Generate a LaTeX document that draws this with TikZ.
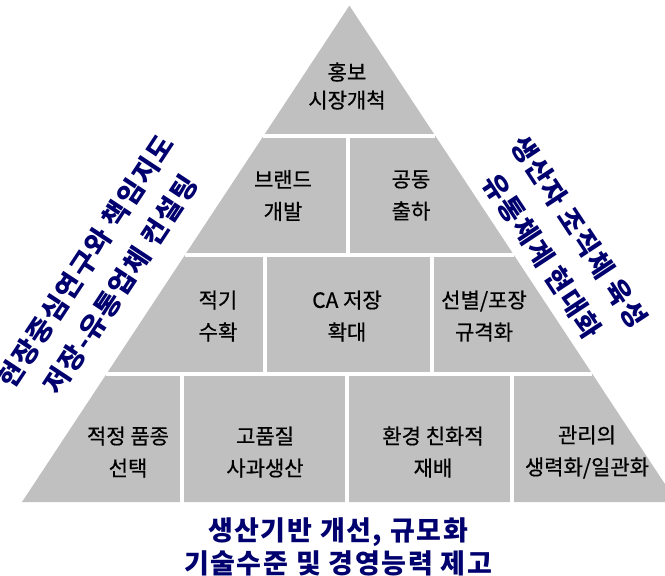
\documentclass[tikz,border=0pt]{standalone}
\usepackage{fontspec}
\setmainfont{Noto Sans CJK KR}
\newfontfamily\lblfont[FakeBold=0.6]{Noto Sans CJK KR}
\newfontfamily\bluefont[LetterSpace=6]{Noto Sans CJK KR}
\usetikzlibrary{calc}
\definecolor{pyrgray}{RGB}{192,192,192}
\definecolor{navytxt}{RGB}{0,0,110}
\begin{document}
\begin{tikzpicture}[x=1pt,y=-1pt,
  lbl/.style={font=\lblfont\fontsize{21}{32}\selectfont, align=center, text=black, inner sep=0pt},
  bluetxt/.style={font=\bluefont\bfseries\fontsize{27}{32}\selectfont, align=center, text=navytxt, inner sep=0pt},
  gapline/.style={draw=white, line width=4pt}]
\useasboundingbox (0,0) rectangle (665,576);
\coordinate (A) at (349.4,5.6);
\coordinate (BL) at (22,502);
\coordinate (BR) at (676.8,502);
\fill[pyrgray] (A) -- (BL) -- (BR) -- cycle;
% horizontal gaps
\coordinate (g1l) at ($(A)!0.2627!(BL)$);
\coordinate (g1r) at ($(A)!0.2627!(BR)$);
\coordinate (g2l) at ($(A)!0.5014!(BL)$);
\coordinate (g2r) at ($(A)!0.5014!(BR)$);
\coordinate (g3l) at ($(A)!0.7421!(BL)$);
\coordinate (g3r) at ($(A)!0.7421!(BR)$);
\draw[gapline] (g1l) -- (g1r);
\draw[gapline] (g2l) -- (g2r);
\draw[gapline] (g3l) -- (g3r);
% vertical gaps
\draw[gapline] (347.5,136) -- (347.5,254.5);
\draw[gapline] (264.5,254.5) -- (264.5,374);
\draw[gapline] (432,254.5) -- (432,374);
\draw[gapline] (182,374) -- (182,504);
\draw[gapline] (347,374) -- (347,504);
\draw[gapline] (512,374) -- (512,504);
% labels
\node[lbl, font=\lblfont\fontsize{21}{28}\selectfont] (t1) at (347,86) {홍보\\시장개척};
\node[lbl] (t2a) at (283,195.5) {브랜드\\개발};
\node[lbl] (t2b) at (411,195.5) {공동\\출하};
\node[lbl] (t3a) at (218,316) {적기\\수확};
\node[lbl] (t3b) at (347,316) {CA 저장\\확대};
\node[lbl] (t3c) at (484,316) {선별/포장\\규격화};
\node[lbl] (t4a) at (128,452) {적정 품종\\선택};
\node[lbl] (t4b) at (265,452) {고품질\\사과생산};
\node[lbl] (t4c) at (433,452) {환경 친화적\\재배};
\node[lbl] (t4d) at (587,452) {관리의\\생력화/일관화};
% blue texts
\node[bluetxt] (bottom) at (338,547) {생산기반 개선, 규모화\\[1pt]기술수준 및 경영능력 제고};
\node[bluetxt, rotate=56.6] (left) at (103,273) {현장중심연구와 책임지도\\[10pt]저장-유통업체 컨설팅};
\node[bluetxt, rotate=-56.6] (right) at (561,244) {생산자 조직체 육성\\[12pt]유통체계 현대화};
\end{tikzpicture}
\end{document}
